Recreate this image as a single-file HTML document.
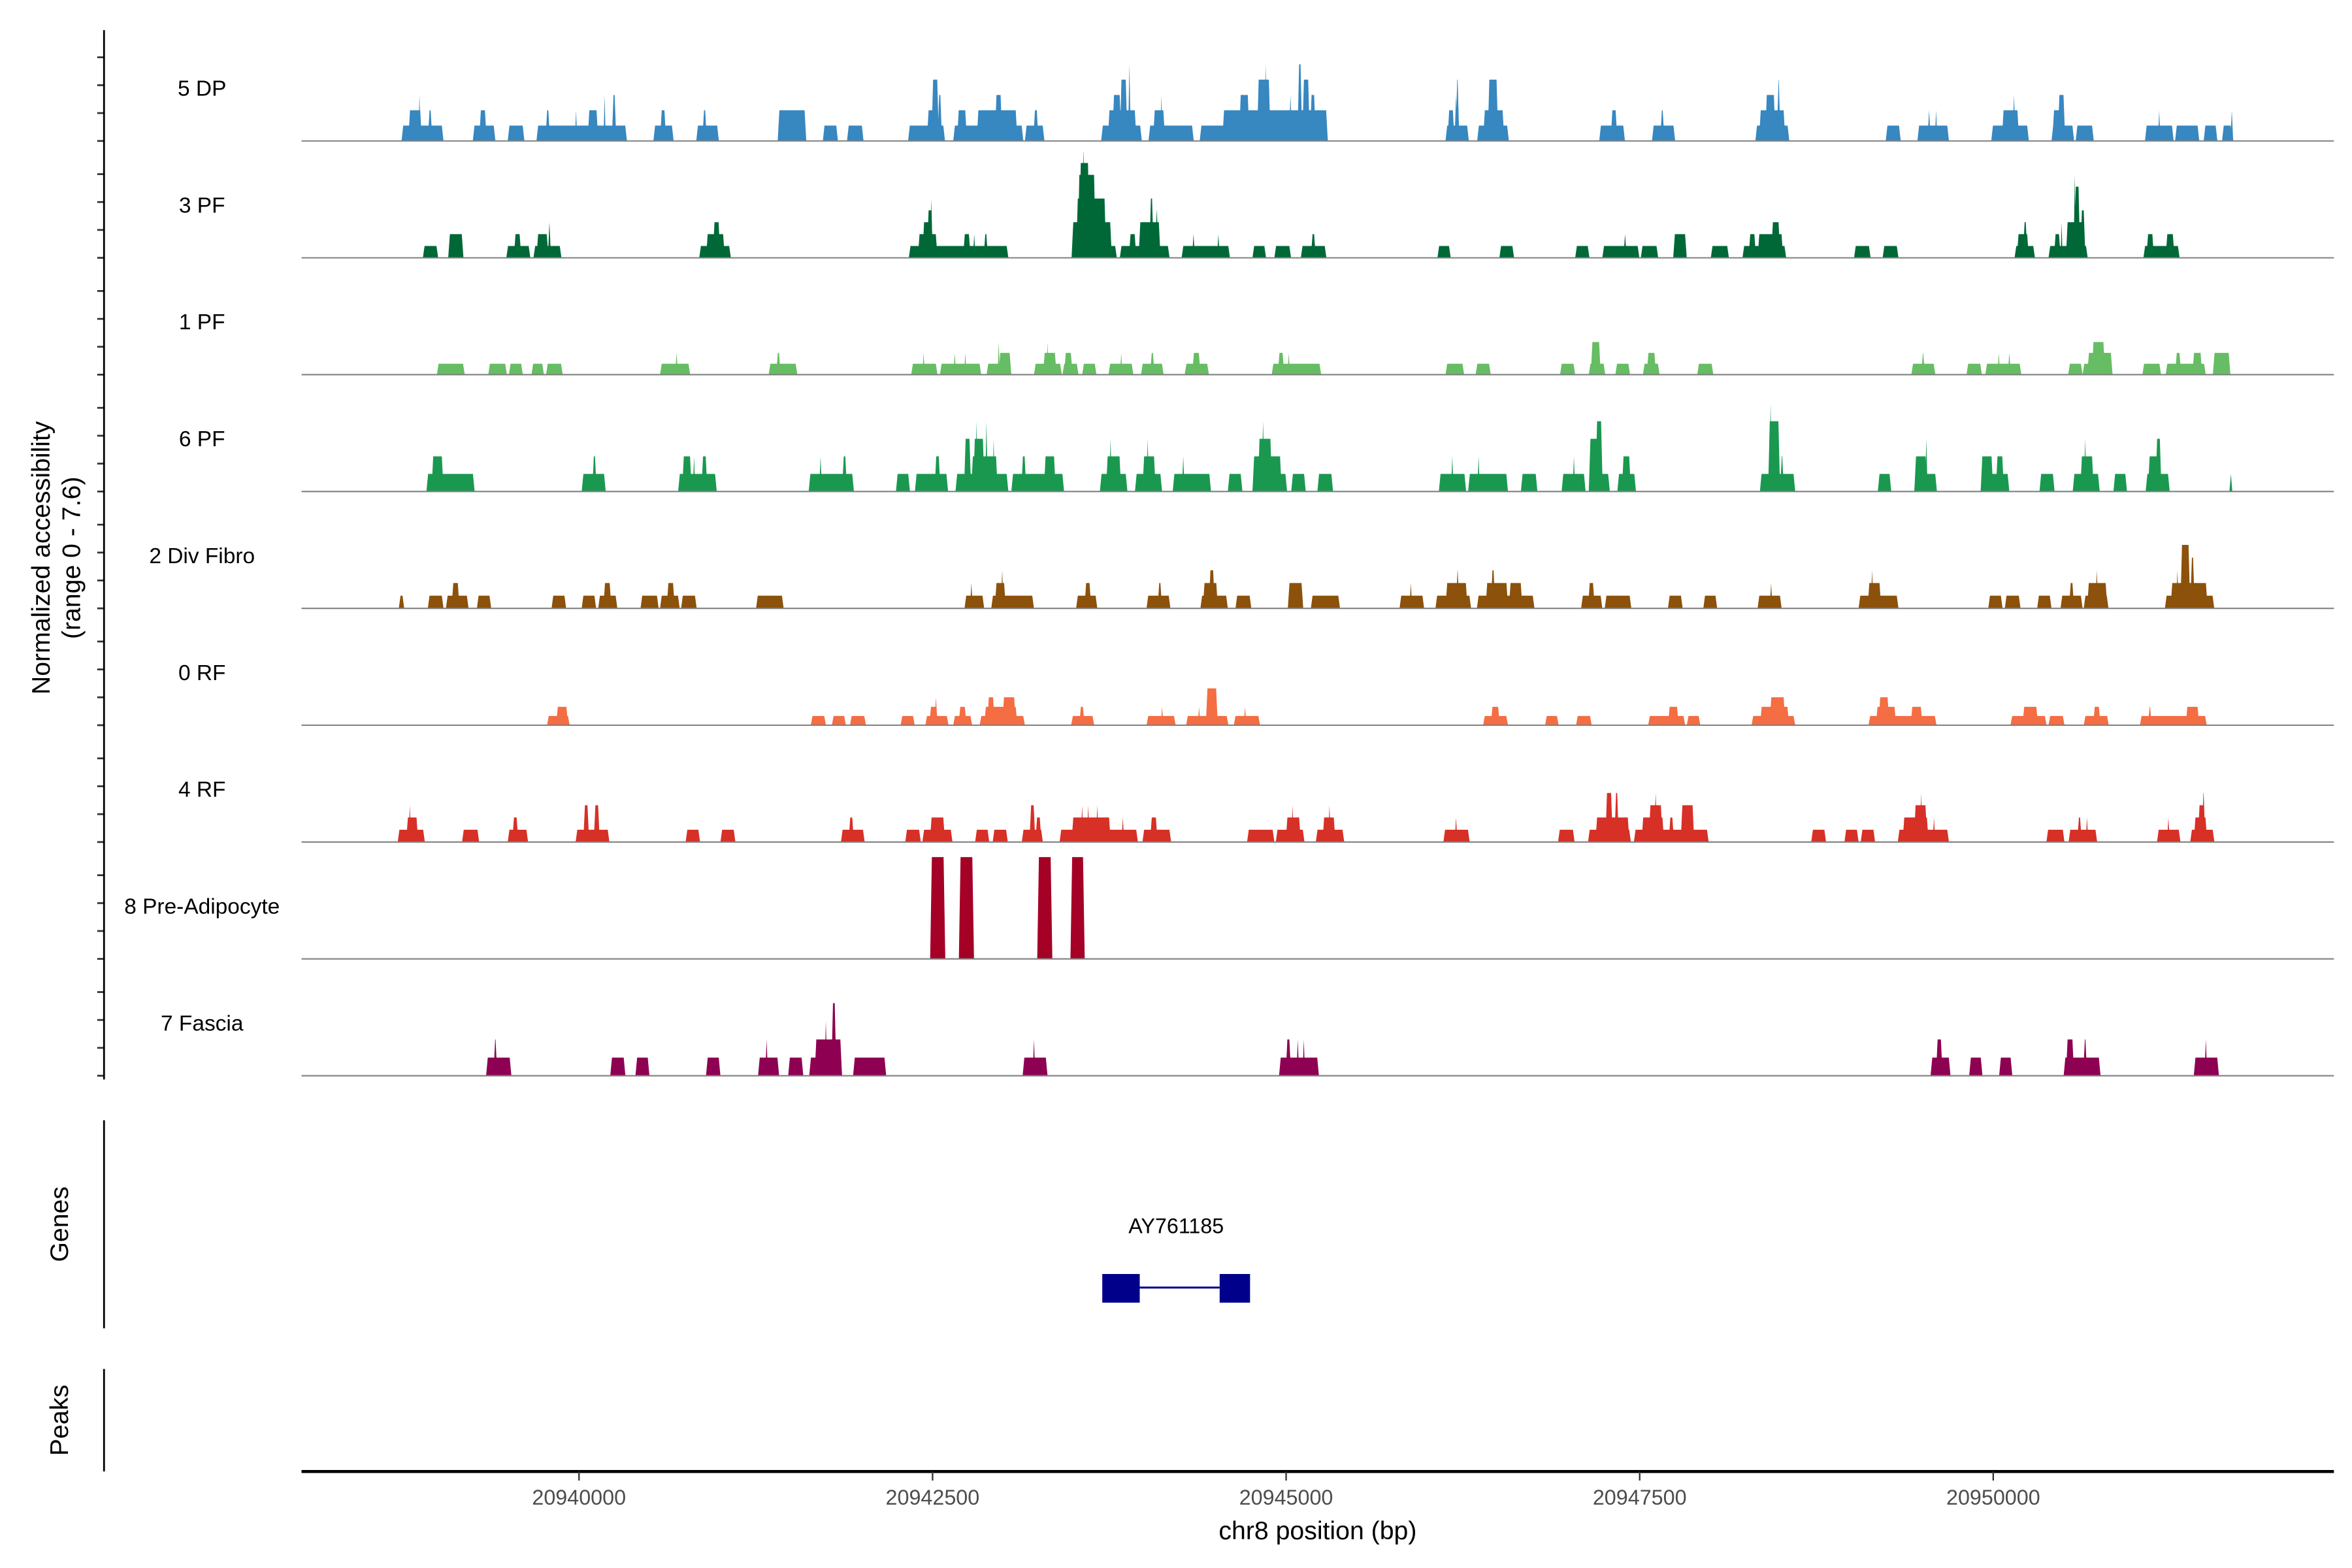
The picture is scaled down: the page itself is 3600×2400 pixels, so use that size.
<!DOCTYPE html>
<html><head><meta charset="utf-8"><style>
html,body{margin:0;padding:0;background:#fff;}
svg{display:block;font-family:"Liberation Sans",Arial,sans-serif;}
</style></head><body>
<svg id="chart" width="3600" height="2400" viewBox="0 0 1560 1040" xmlns="http://www.w3.org/2000/svg">
<rect x="0" y="0" width="1560" height="1040" fill="#fff"/>
<g id="tracks"></g>
<g id="yaxis"></g>
<text transform="translate(33,370) rotate(-90)" text-anchor="middle" font-size="17" fill="#000">Normalized accessibility</text>
<text transform="translate(53,370) rotate(-90)" text-anchor="middle" font-size="17" fill="#000">(range 0 - 7.6)</text>
<line x1="69" y1="743" x2="69" y2="881" stroke="#000" stroke-width="1.2"/>
<text transform="translate(45,812) rotate(-90)" text-anchor="middle" font-size="17" fill="#000">Genes</text>
<g id="genes"></g>
<line x1="69" y1="908" x2="69" y2="976" stroke="#000" stroke-width="1.2"/>
<text transform="translate(45,942) rotate(-90)" text-anchor="middle" font-size="17" fill="#000">Peaks</text>
<g id="xaxis"></g>
<text x="874" y="1021" text-anchor="middle" font-size="17" fill="#000">chr8 position (bp)</text>
</svg>
<script>
const regionStart = 20938030;
const xTicks = [20940000, 20942500, 20945000, 20947500, 20950000];
const trackNames = ["5 DP","3 PF","1 PF","6 PF","2 Div Fibro","0 RF","4 RF","8 Pre-Adipocyte","7 Fascia"];
const trackColors = ["#3787c0","#006837","#66bd63","#1a9850","#8c510a","#f46d43","#d73027","#a50026","#8e0152"];
const yTickValues = [0, 2, 4, 6];
const geneName = "AY761185";
const geneExonStart = [20943700, 20944530];
const geneExonEnd = [20943965, 20944745];

const dp5 = [[715,1012,1.1],[763,859,2.2],[833,851,3.3],[901,933,2.2],[1219,1379,1.1],[1264,1317,2.2],[1466,1584,1.1],[1669,2309,1.1],[1733,1765,2.2],[1941,1957,2.2],[2031,2106,2.2],[2143,2159,3.3],[2202,2234,3.3],[2496,2639,1.1],[2543,2586,2.2],[2799,2959,1.1],[2842,2874,2.2],[3375,3577,2.2],[3694,3801,1.1],[3865,3982,1.1],[4297,4558,1.1],[4430,4505,2.2],[4462,4515,4.4],[4505,4537,3.3],[4616,5112,1.1],[4643,4713,2.2],[4782,5070,2.2],[4910,4963,3.3],[5123,5261,1.1],[5182,5219,2.2],[5662,5950,1.1],[5709,5912,2.2],[5741,5805,3.3],[5794,5848,4.4],[5852,5872,5.5],[5997,6317,1.1],[6029,6114,2.2],[6080,6095,3.3],[6359,7265,1.1],[6519,7265,2.2],[6637,6711,3.3],[6764,6860,4.4],[6814,6836,5.5],[6990,7012,3.3],[7050,7084,5.5],[7084,7138,4.4],[7138,7180,3.3],[8097,8262,1.1],[8111,8161,2.2],[8161,8182,3.3],[8168,8195,4.4],[8321,8545,1.1],[8363,8513,2.2],[8395,8470,4.4],[9184,9366,1.1],[9265,9312,2.2],[9557,9721,1.1],[9615,9645,2.2],[10288,10528,1.1],[10314,10500,2.2],[10357,10431,3.3],[10440,10466,4.4],[11210,11316,1.1],[11434,11657,1.1],[11505,11528,2.2],[11557,11575,2.2],[11956,12222,1.1],[12031,12153,2.2],[12106,12128,3.3],[12382,12542,1.1],[12388,12479,2.2],[12426,12479,3.3],[12553,12681,1.1],[13043,13246,1.1],[13135,13152,2.2],[13256,13427,1.1],[13458,13555,1.1],[13588,13661,1.1],[13647,13667,2.2]];
const pf3 = [[866,974,0.85],[1045,1153,1.7],[1456,1626,0.85],[1509,1562,1.7],[1648,1846,0.85],[1669,1754,1.7],[1750,1772,2.55],[2820,3044,0.85],[2868,3001,1.7],[2916,2969,2.55],[4302,5006,0.85],[4366,4505,1.7],[4398,4473,2.55],[4430,4473,3.4],[4453,4470,4.25],[4686,4739,1.7],[4756,4773,1.7],[4831,4862,1.7],[5453,5773,0.85],[5453,5738,2.55],[5485,5698,4.25],[5496,5624,5.95],[5506,5581,6.8],[5526,5551,7.6],[5624,5688,3.4],[5794,6146,0.85],[5858,5911,1.7],[5927,6082,2.55],[6002,6034,4.25],[6043,6068,3.4],[6231,6573,0.85],[6305,6325,1.7],[6482,6500,1.7],[6732,6828,0.85],[6887,7005,0.85],[7074,7255,0.85],[7145,7180,1.7],[8040,8134,0.85],[8478,8582,0.85],[9014,9115,0.85],[9206,9468,0.85],[9355,9378,1.7],[9478,9601,0.85],[9707,9803,1.7],[9973,10101,0.85],[10197,10506,0.85],[10240,10293,1.7],[10304,10485,1.7],[10400,10464,2.55],[10986,11103,0.85],[11188,11300,0.85],[12121,12265,0.85],[12137,12222,1.7],[12180,12212,2.55],[12361,12638,0.85],[12399,12447,1.7],[12447,12460,2.55],[12484,12612,2.55],[12542,12585,5.1],[12585,12622,3.4],[12538,12556,5.95],[13032,13288,0.85],[13053,13107,1.7],[13189,13252,1.7]];
const pf1 = [[965,1162,0.78],[1328,1460,0.78],[1474,1573,0.78],[1634,1722,0.78],[1737,1855,0.78],[2543,2756,0.78],[2650,2670,1.56],[3311,3514,0.78],[3364,3396,1.56],[4319,4505,0.78],[4398,4415,1.56],[4522,4814,0.78],[4618,4636,1.56],[4693,4710,1.56],[4852,5027,0.78],[4937,5027,1.56],[4930,4946,2.34],[5187,5384,0.78],[5251,5347,1.56],[5276,5291,2.34],[5389,5502,0.78],[5400,5460,1.56],[5528,5629,0.78],[5714,5890,0.78],[5796,5812,1.56],[5944,6104,0.78],[6008,6040,1.56],[6253,6424,0.78],[6306,6365,1.56],[6868,7218,0.78],[6911,6957,1.56],[6980,6997,1.56],[8097,8229,0.78],[8310,8417,0.78],[8907,9014,0.78],[9110,9227,0.78],[9124,9195,2.34],[9298,9402,0.78],[9493,9611,0.78],[9520,9586,1.56],[9877,9991,0.78],[11391,11561,0.78],[11461,11487,1.56],[11781,11890,0.78],[11914,12169,0.78],[12001,12018,1.56],[12073,12095,1.56],[12500,12602,0.78],[12602,12814,0.78],[12635,12814,1.56],[12667,12761,2.34],[13025,13157,0.78],[13189,13473,0.78],[13256,13299,1.56],[13378,13448,1.56],[13523,13647,1.56]];
const pf6 = [[891,1232,1.26],[927,1012,2.52],[1989,2159,1.26],[2063,2095,2.52],[2671,2944,1.26],[2699,2767,2.52],[2775,2792,2.52],[2835,2878,2.52],[3594,3914,1.26],[3668,3688,2.52],[3830,3865,2.52],[4211,4310,1.26],[4345,4580,1.26],[4484,4526,2.52],[4632,5006,1.26],[4692,4743,3.78],[4743,4931,2.52],[4757,4838,3.78],[4894,4910,3.78],[4772,4790,5.04],[4842,4860,5.04],[5027,5400,1.26],[5097,5133,2.52],[5257,5341,2.52],[5653,5848,1.26],[5696,5804,2.52],[5719,5738,3.78],[5901,6093,1.26],[5954,6048,2.52],[5982,6000,3.78],[6168,6439,1.26],[6233,6252,2.52],[6558,6661,1.26],[6732,6977,1.26],[6732,6939,2.52],[6770,6871,3.78],[6796,6818,5.04],[7006,7109,1.26],[7191,7302,1.26],[8050,8243,1.26],[8136,8154,2.52],[8257,8539,1.26],[8322,8340,2.52],[8630,8747,1.26],[8918,9088,1.26],[8996,9014,2.52],[9110,9259,1.26],[9110,9209,3.78],[9157,9209,5.04],[9312,9444,1.26],[9344,9408,2.52],[10320,10570,1.26],[10378,10463,5.04],[10386,10406,6.3],[10463,10490,2.52],[11154,11249,1.26],[11412,11572,1.26],[11412,11503,2.52],[11488,11506,3.78],[11881,12084,1.26],[11881,11970,2.52],[11988,12046,2.52],[12297,12404,1.26],[12532,12723,1.26],[12585,12681,2.52],[12611,12629,3.78],[12820,12916,1.26],[13048,13218,1.26],[13064,13160,2.52],[13117,13160,3.78],[13640,13661,1.26]];
const divFibro2 = [[696,734,0.91],[901,1012,0.91],[1029,1189,0.91],[1069,1125,1.82],[1248,1349,0.91],[1776,1879,0.91],[1989,2091,0.91],[2106,2241,0.91],[2142,2199,1.82],[2405,2533,0.91],[2543,2682,0.91],[2590,2647,1.82],[2692,2802,0.91],[3222,3417,0.91],[4696,4835,0.91],[4735,4754,1.82],[4885,5187,0.91],[4910,4988,1.82],[4953,4972,2.73],[5485,5635,0.91],[5544,5592,1.82],[5983,6152,0.91],[6061,6093,1.82],[6364,6558,0.91],[6381,6488,1.82],[6423,6466,2.73],[6612,6724,0.91],[6982,7091,1.82],[7145,7351,0.91],[7772,7946,0.91],[7843,7861,1.82],[8026,8278,0.91],[8097,8253,1.82],[8170,8195,2.73],[8319,8726,0.91],[8380,8540,1.82],[8417,8449,2.73],[8545,8641,1.82],[9056,9206,0.91],[9105,9152,1.82],[9223,9411,0.91],[9670,9774,0.91],[9920,10018,0.91],[10304,10474,0.91],[10390,10409,1.82],[11018,11300,0.91],[11082,11178,1.82],[11104,11123,2.73],[11935,12036,0.91],[12052,12163,0.91],[12281,12382,0.91],[12446,12602,0.91],[12506,12542,1.82],[12610,12785,0.91],[12634,12777,1.82],[12693,12712,2.73],[13184,13533,0.91],[13224,13486,1.82],[13263,13281,2.73],[13293,13363,4.55],[13363,13395,3.64]];
const rf0 = [[1744,1904,0.66],[1808,1893,1.32],[3609,3716,0.66],[3758,3857,0.66],[3886,3999,0.66],[4244,4344,0.66],[4419,4583,0.66],[4447,4508,1.32],[4483,4505,2.0],[4616,4750,0.66],[4654,4710,1.32],[4803,5123,0.66],[4835,5070,1.32],[4856,4910,2.0],[4963,5059,2.0],[5450,5613,0.66],[5507,5545,1.32],[5983,6189,0.66],[6084,6102,1.32],[6263,6562,0.66],[6345,6364,1.32],[6402,6487,2.64],[6600,6786,0.66],[6670,6689,1.32],[8363,8539,0.66],[8417,8481,1.32],[8801,8897,0.66],[9020,9131,0.66],[9530,9792,0.66],[9670,9746,1.32],[9803,9899,0.66],[10261,10570,0.66],[10321,10527,1.32],[10389,10500,2.0],[11088,11569,0.66],[11140,11284,1.32],[11159,11235,2.0],[11386,11470,1.32],[12092,12347,0.66],[12177,12287,1.32],[12361,12474,0.66],[12610,12787,0.66],[12676,12729,1.32],[13007,13480,0.66],[13064,13091,1.32],[13331,13427,1.32]];
const rf4 = [[688,880,0.88],[748,833,1.76],[764,783,2.64],[1143,1264,0.88],[1466,1610,0.88],[1498,1541,1.76],[1946,2185,0.88],[2000,2042,2.64],[2074,2117,2.64],[2724,2826,0.88],[2970,3076,0.88],[3822,3990,0.88],[3876,3914,1.76],[4277,4387,0.88],[4398,4611,0.88],[4451,4558,1.76],[4771,4871,0.88],[4895,5002,0.88],[5101,5250,0.88],[5155,5197,2.64],[5197,5240,1.76],[5368,5922,0.88],[5453,5730,1.76],[5518,5537,2.64],[5561,5580,2.64],[5625,5644,2.64],[5806,5825,1.76],[5954,6157,0.88],[6008,6061,1.76],[6694,6887,0.88],[6897,7100,0.88],[6967,7074,1.76],[7006,7024,2.64],[7180,7381,0.88],[7227,7319,1.76],[7267,7286,2.64],[8082,8268,0.88],[8162,8181,1.76],[8893,9010,0.88],[9105,9408,0.88],[9157,9398,1.76],[9227,9280,3.52],[9291,9323,3.52],[9429,9958,0.88],[9483,9643,1.76],[9534,9632,2.64],[9571,9595,3.52],[9675,9713,1.76],[9760,9856,2.64],[10683,10788,0.88],[10918,11018,0.88],[11033,11135,0.88],[11295,11657,0.88],[11329,11513,1.76],[11409,11503,2.64],[11451,11470,3.52],[11542,11560,1.76],[12346,12474,0.88],[12503,12705,0.88],[12564,12596,1.76],[12624,12642,1.76],[13128,13294,0.88],[13199,13218,1.76],[13363,13534,0.88],[13388,13483,1.76],[13417,13470,2.64],[13444,13470,3.52]];
const preAdipocyte8 = [[4453,4560,7.3],[4656,4763,7.3],[5210,5317,7.3],[5445,5546,7.3]];
const fascia7 = [[1313,1492,1.3],[1365,1392,2.6],[2191,2298,1.3],[2369,2468,1.3],[2868,2970,1.3],[3236,3385,1.3],[3287,3306,2.6],[3449,3556,1.3],[3598,3830,1.3],[3636,3830,2.6],[3706,3725,3.9],[3754,3790,5.2],[3908,4142,1.3],[5107,5283,1.3],[5178,5196,2.6],[6920,7202,1.3],[6967,7005,2.6],[7043,7062,2.6],[7086,7104,2.6],[11527,11668,1.3],[11565,11612,2.6],[11800,11894,1.3],[12012,12105,1.3],[12468,12729,1.3],[12484,12542,2.6],[12606,12634,2.6],[13388,13566,1.3],[13464,13483,2.6]];

const trackData = [dp5, pf3, pf1, pf6, divFibro2, rf0, rf4, preAdipocyte8, fascia7];

const NS = "http://www.w3.org/2000/svg";
const plotLeft = 200, plotRight = 1548;
const bpLeft = 20938038, pxPerBp = 0.0938;
function xScale(bp){ return plotLeft + (bp - bpLeft) * pxPerBp; }
const firstBaseline = 93.5, trackSpacing = 77.5, pxPerUnit = 9.25;
function baseY(i){ return firstBaseline + i * trackSpacing; }
function yScale(i, v){ return baseY(i) - v * pxPerUnit; }
function mk(tag, attrs, parent){ const e = document.createElementNS(NS, tag); for (const k in attrs) e.setAttribute(k, attrs[k]); parent.appendChild(e); return e; }

const tracksG = document.getElementById('tracks');
const yaxisG = document.getElementById('yaxis');
const slopeBp = 12;
trackData.forEach((blocks, i) => {
  const g = mk('g', {}, tracksG);
  
  
  const lbl = mk('text', {x: 134, y: baseY(i) - 30, 'text-anchor': 'middle', 'font-size': 14.5, fill: '#000'}, g);
  
  
  lbl.textContent = trackNames[i];
  blocks.forEach(b => {
    const s = regionStart + b[0], e = regionStart + b[1], v = b[2];
    const sl = Math.min(slopeBp, (e - s) / 2);
    const y0 = baseY(i), y1 = yScale(i, v);
    const pts = [[xScale(s), y0], [xScale(s + sl), y1], [xScale(e - sl), y1], [xScale(e), y0]].map(p => p[0].toFixed(2) + ',' + p[1].toFixed(2)).join(' ');
    const p = mk('polygon', {points: pts, fill: trackColors[i]}, g);
    
    
  });
  const bl = mk('line', {x1: plotLeft, x2: plotRight, y1: baseY(i), y2: baseY(i), stroke: '#808080', 'stroke-width': 0.9}, g);
  
  
  yTickValues.forEach(t => {
    const tk = mk('line', {x1: 64.5, x2: 69, y1: yScale(i, t), y2: yScale(i, t), stroke: '#333', 'stroke-width': 1.2}, yaxisG);
    
    
  });
});
const yl = mk('line', {x1: 69, x2: 69, y1: 20, y2: 716, stroke: '#000', 'stroke-width': 1.2}, yaxisG);



const genesG = document.getElementById('genes');
const gl = mk('line', {x1: xScale(geneExonEnd[0]), x2: xScale(geneExonStart[1]), y1: 854, y2: 854, stroke: '#00008b', 'stroke-width': 1.3}, genesG);


geneExonStart.forEach((s, k) => {
  const r = mk('rect', {x: xScale(s), y: 845, width: xScale(geneExonEnd[k]) - xScale(s), height: 19, fill: '#00008b'}, genesG);
  
  
});
const gt = mk('text', {x: (xScale(geneExonStart[0]) + xScale(geneExonEnd[1])) / 2, y: 818, 'text-anchor': 'middle', 'font-size': 14, fill: '#000'}, genesG);


gt.textContent = geneName;

const xaxisG = document.getElementById('xaxis');
const xl = mk('line', {x1: plotLeft, x2: plotRight, y1: 976, y2: 976, stroke: '#000', 'stroke-width': 2}, xaxisG);


xTicks.forEach(t => {
  const tk = mk('line', {x1: xScale(t), x2: xScale(t), y1: 976, y2: 982, stroke: '#333', 'stroke-width': 1}, xaxisG);
  
  
  const tl = mk('text', {x: xScale(t), y: 998, 'text-anchor': 'middle', 'font-size': 14, fill: '#4d4d4d'}, xaxisG);
  
  
  tl.textContent = String(t);
});
</script>
</body></html>
